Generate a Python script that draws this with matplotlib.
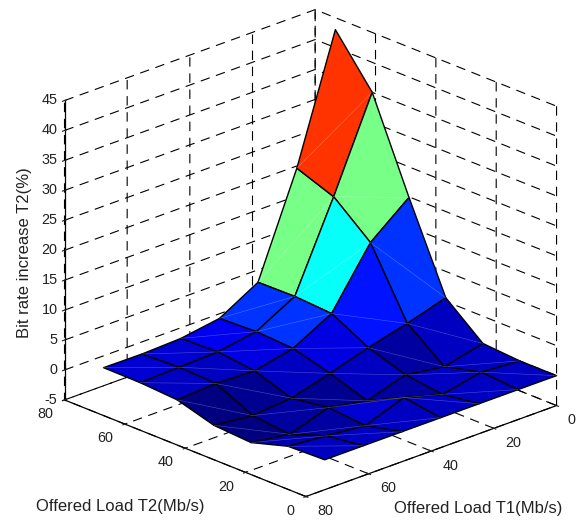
import numpy as np
import matplotlib
matplotlib.use('Agg')
import matplotlib.pyplot as plt
from matplotlib.colors import LinearSegmentedColormap

plt.rcParams['font.family'] = ['Liberation Sans', 'DejaVu Sans']
plt.rcParams['axes.unicode_minus'] = False
plt.rcParams['grid.color'] = 'black'
plt.rcParams['grid.linestyle'] = (0, (8.5, 6))
plt.rcParams['grid.linewidth'] = 0.8

# offered load, Mb/s
t1 = [0, 12.3, 24.7, 37, 49.3, 61.7, 74]
t2 = [0, 12.2, 24.4, 36.7, 48.9, 61.1, 73.3]

# bit rate increase, one row per t2 value
row_0 = [0, 0, 0, 0, 0, 0, 0]
row_1 = [0, 0.45, -0.9, 0.9, -1.45, -0.8, -0.2]
row_2 = [0.45, -1.1, -0.1, -2.1, -0.9, -3, -2.05]
row_3 = [5.6, 3.65, 1.95, 0, -1.8, -2.35, -1.65]
row_4 = [19.9, 14.7, 5.2, 1.7, 0.3, 0.55, 0.15]
row_5 = [35, 19.9, 5.6, 2.05, 1, 0.8, 0.55]
row_6 = [43, 22.2, 5.5, 1.8, 0.8, 0.55, 0.6]

load_ticks = [0, 20, 40, 60, 80]
rate_ticks = [-5, 0, 5, 10, 15, 20, 25, 30, 35, 40, 45]

z = np.array([row_0, row_1, row_2, row_3, row_4, row_5, row_6])
x, y = np.meshgrid(t1, t2)

# matlab jet, matplotlib's own has other break points
jet = LinearSegmentedColormap.from_list('matlab_jet', [
    (0, (0, 0, 0.5)), (0.125, (0, 0, 1)), (0.375, (0, 1, 1)),
    (0.625, (1, 1, 0)), (0.875, (1, 0, 0)), (1, (0.5, 0, 0))], N=64)

fig = plt.figure(figsize=(5.82, 5.2), dpi=100)
ax = fig.add_axes([16.8 / 582, -26.8 / 520, 572 / 582, 572 / 520], projection='3d',
                  proj_type='ortho', computed_zorder=False)
ax.view_init(elev=22.4, azim=-133.6)
ax.set_box_aspect((346.9, 350.8, 324.5))
ax.set_xlim(80, 0, view_margin=0)
ax.set_ylim(0, 80, view_margin=0)
ax.set_zlim(-5, 45, view_margin=0)

# colour of a face comes from its first corner, like matlab surf
colors = jet((z - z.min()) / (z.max() - z.min()))
ax.plot_surface(x, y, z, facecolors=colors, edgecolor='black', linewidth=1.0,
                rstride=1, cstride=1, shade=False, antialiased=True, zorder=2)

# thin light seams across the faces
for j in range(len(t2) - 1):
    for i in range(len(t1) - 1):
        ax.plot([t1[i], t1[i + 1]], [t2[j], t2[j + 1]], [z[j, i], z[j + 1, i + 1]],
                color='white', lw=0.4, alpha=0.3, zorder=3)

ax.set_xticks(load_ticks)
ax.set_yticks(load_ticks)
ax.set_zticks(rate_ticks)
ax.zaxis.set_ticks_position('upper')
ax.tick_params(labelsize=10.4, pad=2, colors='#222222')
ax.tick_params(axis='z', pad=-5)
for lab in ax.get_xticklabels():
    lab.set_ha('left')
    lab.set_va('baseline')
for lab in ax.get_yticklabels():
    lab.set_ha('right')
    lab.set_va('baseline')
for lab in ax.get_zticklabels():
    lab.set_ha('right')
    lab.set_va('center')

for axis in (ax.xaxis, ax.yaxis, ax.zaxis):
    axis.pane.fill = False
    axis.pane.set_edgecolor('none')
    axis.line.set_color('black')
    axis.line.set_linewidth(0.9)
    axis._axinfo['tick']['inward_factor'] = 0.1
    axis._axinfo['tick']['outward_factor'] = 0.1
    axis._axinfo['tick']['linewidth'] = {True: 0.8, False: 0.8}

fig.text(478 / 582, 1 - 508 / 520, 'Offered Load T1(Mb/s)', fontsize=12, color='#222222',
         ha='center', va='center')
fig.text(120 / 582, 1 - 507 / 520, 'Offered Load T2(Mb/s)', fontsize=12, color='#222222',
         ha='center', va='center')
fig.text(25 / 582, 1 - 253 / 520, 'Bit rate increase T2(%)', fontsize=12, color='#222222',
         ha='center', va='center', rotation=90)

fig.savefig('out.png', dpi=100)
